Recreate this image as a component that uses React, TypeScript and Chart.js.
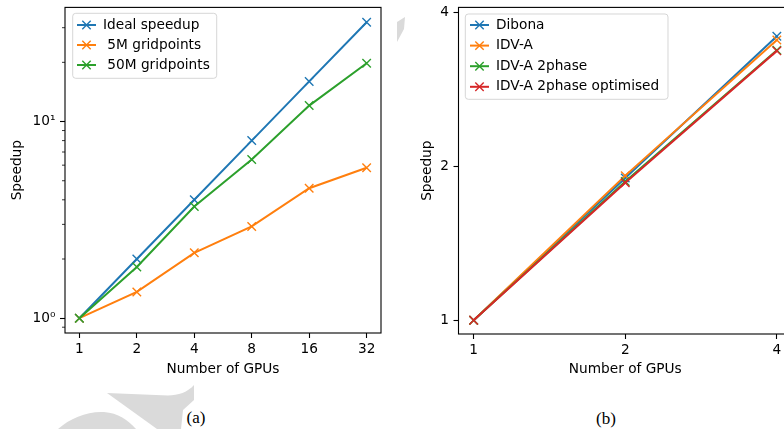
import React, { useEffect, useRef } from 'react';
import { Chart, registerables } from 'chart.js';

Chart.register(...registerables);

// ---------- Panel (a) data ----------
const gpusA = [1, 2, 4, 8, 16, 32];
const idealSpeedup = [1, 2, 4, 8, 16, 32];
const speedup5M = [1, 1.36, 2.15, 2.93, 4.58, 5.82];
const speedup50M = [1, 1.82, 3.7, 6.41, 12.05, 19.8];
const labelsA = ['Ideal speedup', ' 5M gridpoints', ' 50M gridpoints'];

// ---------- Panel (b) data ----------
const gpusB = [1, 2, 4];
const dibona = [1, 1.9, 3.6];
const idvA = [1, 1.92, 3.54];
const idvA2phase = [1, 1.87, 3.38];
const idvA2phaseOpt = [1, 1.86, 3.37];
const labelsB = ['Dibona', 'IDV-A', 'IDV-A 2phase', 'IDV-A 2phase optimised'];

// ---------- Ticks ----------
const xTicksA = [1, 2, 4, 8, 16, 32];
const xTickLabelsA = ['1', '2', '4', '8', '16', '32'];
const yTicksA = [1, 10];
const yTickLabelsA = ['10⁰', '10¹'];
const yMinorTicksA = [0.9, 2, 3, 4, 5, 6, 7, 8, 9, 20, 30];
const xTicksB = [1, 2, 4];
const xTickLabelsB = ['1', '2', '4'];
const yTicksB = [1, 2, 4];
const yTickLabelsB = ['1', '2', '4'];

const COLORS = ['#1f77b4', '#ff7f0e', '#2ca02c', '#d62728'];
const FONT = "'DejaVu Sans', sans-serif";
const FS = 13.7;

function makeDatasets(xs: number[], series: number[][], labels: string[]) {
  const n = series.length;
  return series.map((ys, i) => ({
    label: labels[i],
    data: xs.map((x, j) => ({ x, y: ys[j] })),
    borderColor: COLORS[i],
    backgroundColor: COLORS[i],
    borderWidth: 2,
    pointStyle: 'crossRot',
    pointRadius: 6,
    pointHoverRadius: 6,
    pointBorderWidth: 1.4,
    pointBorderColor: COLORS[i],
    pointBackgroundColor: COLORS[i],
    tension: 0,
    fill: false,
    order: n - i,
  }));
}

function roundRect(ctx: CanvasRenderingContext2D, x: number, y: number, w: number, h: number, r: number) {
  ctx.beginPath();
  ctx.moveTo(x + r, y);
  ctx.lineTo(x + w - r, y);
  ctx.arcTo(x + w, y, x + w, y + r, r);
  ctx.lineTo(x + w, y + h - r);
  ctx.arcTo(x + w, y + h, x + w - r, y + h, r);
  ctx.lineTo(x + r, y + h);
  ctx.arcTo(x, y + h, x, y + h - r, r);
  ctx.lineTo(x, y + r);
  ctx.arcTo(x, y, x + r, y, r);
  ctx.closePath();
}

const decoPlugin = {
  id: 'mplDeco',
  afterDatasetsDraw(chart: any, _args: any, opts: any) {
    const { ctx, chartArea: a } = chart;
    ctx.save();
    // minor y ticks
    if (opts.minorY) {
      const ys = chart.scales.y;
      ctx.strokeStyle = '#000';
      ctx.lineWidth = 0.8;
      opts.minorY.forEach((v: number) => {
        if (v < ys.min || v > ys.max) return;
        const p = ys.getPixelForValue(v);
        ctx.beginPath();
        ctx.moveTo(a.left - 3, p);
        ctx.lineTo(a.left, p);
        ctx.stroke();
      });
    }
    // frame
    ctx.strokeStyle = '#000';
    ctx.lineWidth = 1.1;
    ctx.strokeRect(a.left, a.top, a.right - a.left, a.bottom - a.top);
    // legend
    const lg = opts.legend;
    if (lg) {
      ctx.globalAlpha = 0.8;
      roundRect(ctx, lg.x, lg.y, lg.w, lg.h, 3);
      ctx.fillStyle = '#ffffff';
      ctx.fill();
      ctx.strokeStyle = '#cccccc';
      ctx.lineWidth = 1;
      ctx.stroke();
      ctx.globalAlpha = 1;
      chart.data.datasets.forEach((ds: any, i: number) => {
        const y = lg.y0 + i * lg.dy;
        ctx.strokeStyle = ds.borderColor;
        ctx.lineWidth = 2;
        ctx.beginPath();
        ctx.moveTo(lg.lx1, y);
        ctx.lineTo(lg.lx2, y);
        ctx.stroke();
        const cx = (lg.lx1 + lg.lx2) / 2;
        const d = 4.2;
        ctx.lineWidth = 1.4;
        ctx.beginPath();
        ctx.moveTo(cx - d, y - d);
        ctx.lineTo(cx + d, y + d);
        ctx.moveTo(cx + d, y - d);
        ctx.lineTo(cx - d, y + d);
        ctx.stroke();
        ctx.fillStyle = '#000';
        ctx.font = `${FS}px ${FONT}`;
        ctx.textAlign = 'left';
        ctx.textBaseline = 'middle';
        ctx.fillText(ds.label, lg.tx, y);
      });
    }
    ctx.restore();
  },
};

function makeConfig(p: any) {
  const tickFont = { family: FONT, size: FS };
  return {
    type: 'line',
    data: { datasets: p.datasets },
    plugins: [decoPlugin],
    options: {
      animation: false,
      responsive: false,
      devicePixelRatio: 1,
      events: [],
      layout: { padding: p.padding },
      plugins: { legend: { display: false }, tooltip: { enabled: false }, mplDeco: p.deco },
      scales: {
        x: {
          type: 'logarithmic',
          min: p.xMin,
          max: p.xMax,
          afterBuildTicks: (s: any) => {
            s.ticks = p.xTicks.map((v: number) => ({ value: v }));
          },
          afterFit: (s: any) => {
            s.height = p.xHeight;
            s.paddingLeft = 0;
            s.paddingRight = 0;
            s.paddingTop = 0;
            s.paddingBottom = 0;
          },
          ticks: {
            autoSkip: false,
            maxRotation: 0,
            minRotation: 0,
            padding: 3.5,
            color: '#000',
            font: tickFont,
            callback: (_v: any, i: number) => p.xLabels[i],
          },
          grid: { display: true, drawOnChartArea: false, drawTicks: true, tickLength: 5, tickWidth: 1.1, tickColor: '#000' },
          border: { display: false },
          title: { display: true, text: 'Number of GPUs', color: '#000', font: tickFont, padding: { top: 0, bottom: p.xTitlePad } },
        },
        y: {
          type: 'logarithmic',
          min: p.yMin,
          max: p.yMax,
          afterBuildTicks: (s: any) => {
            s.ticks = p.yTicks.map((v: number) => ({ value: v }));
          },
          afterFit: (s: any) => {
            s.width = p.yWidth;
            s.paddingLeft = 0;
            s.paddingRight = 0;
            s.paddingTop = 0;
            s.paddingBottom = 0;
          },
          ticks: {
            autoSkip: false,
            padding: 4.5,
            color: '#000',
            font: tickFont,
            callback: (_v: any, i: number) => p.yLabels[i],
          },
          grid: { display: true, drawOnChartArea: false, drawTicks: true, tickLength: 5, tickWidth: 1.1, tickColor: '#000' },
          border: { display: false },
          title: { display: true, text: 'Speedup', color: '#000', font: tickFont, padding: { top: p.yTitlePad, bottom: 0 } },
        },
      },
    },
  };
}

function ChartCanvas({ make, left, top, width, height }: any) {
  const ref = useRef<HTMLCanvasElement>(null);
  useEffect(() => {
    const c = new Chart(ref.current as HTMLCanvasElement, make() as any);
    return () => c.destroy();
  }, []);
  return (
    <canvas
      ref={ref}
      width={width}
      height={height}
      style={{ position: 'absolute', left, top, width, height }}
    />
  );
}

const makeA = () =>
  makeConfig({
    datasets: makeDatasets(gpusA, [idealSpeedup, speedup5M, speedup50M], labelsA),
    xTicks: xTicksA,
    xLabels: xTickLabelsA,
    yTicks: yTicksA,
    yLabels: yTickLabelsA,
    xMin: Math.pow(2, -0.25),
    xMax: 32 * Math.pow(2, 0.25),
    yMin: 0.841,
    yMax: 38.05,
    padding: { left: 0, right: 11, top: 5, bottom: 0 },
    yWidth: 65,
    xHeight: 47,
    yTitlePad: 9.3,
    xTitlePad: 2.8,
    deco: {
      minorY: yMinorTicksA,
      legend: { x: 72.7, y: 13.3, w: 144, h: 65, y0: 25, dy: 20, lx1: 77, lx2: 96, tx: 103 },
    },
  });

const makeB = () =>
  makeConfig({
    datasets: makeDatasets(gpusB, [dibona, idvA, idvA2phase, idvA2phaseOpt], labelsB),
    xTicks: xTicksB,
    xLabels: xTickLabelsB,
    yTicks: yTicksB,
    yLabels: yTickLabelsB,
    xMin: Math.pow(2, -0.1),
    xMax: Math.pow(2, 2.1),
    yMin: 0.94,
    yMax: 4.1,
    padding: { left: 0, right: 10, top: 6, bottom: 0 },
    yWidth: 66.5,
    xHeight: 46,
    yTitlePad: 27.3,
    xTitlePad: 2.8,
    deco: {
      legend: { x: 73.3, y: 14, w: 202.7, h: 85.3, y0: 25, dy: 20.6, lx1: 78, lx2: 97, tx: 104 },
    },
  });

const captionStyle: React.CSSProperties = {
  position: 'absolute',
  transform: 'translate(-50%, -50%)',
  fontFamily: "'Liberation Serif', 'DejaVu Serif', serif",
  fontSize: 17,
  lineHeight: 1,
  color: '#000',
  whiteSpace: 'nowrap',
};

export default function App() {
  return (
    <div
      style={{
        position: 'fixed',
        left: 0,
        top: 0,
        width: 784,
        height: 429,
        overflow: 'hidden',
        background: '#fff',
      }}
    >
      <svg width={784} height={429} style={{ position: 'absolute', left: 0, top: 0 }}>
        <path d="M 58 429 C 70 418, 88 411, 104 412 C 118 413, 128 420, 136 429 Z" fill="#dadada" />
        <path
          d="M 107 393 L 168 395.5 C 178 395.5, 188 392, 194 385 L 194 400 L 183 410 L 181 429 L 157 429 Z"
          fill="#dadada"
        />
        <path d="M 397 22 L 405 17 L 404 29 L 397 42 Z" fill="#dadada" />
      </svg>
      <ChartCanvas make={makeA} left={0} top={0} width={392} height={380} />
      <ChartCanvas make={makeB} left={392} top={0} width={410} height={380} />
      <div style={{ ...captionStyle, left: 196, top: 417 }}>(a)</div>
      <div style={{ ...captionStyle, left: 606, top: 418 }}>(b)</div>
    </div>
  );
}
